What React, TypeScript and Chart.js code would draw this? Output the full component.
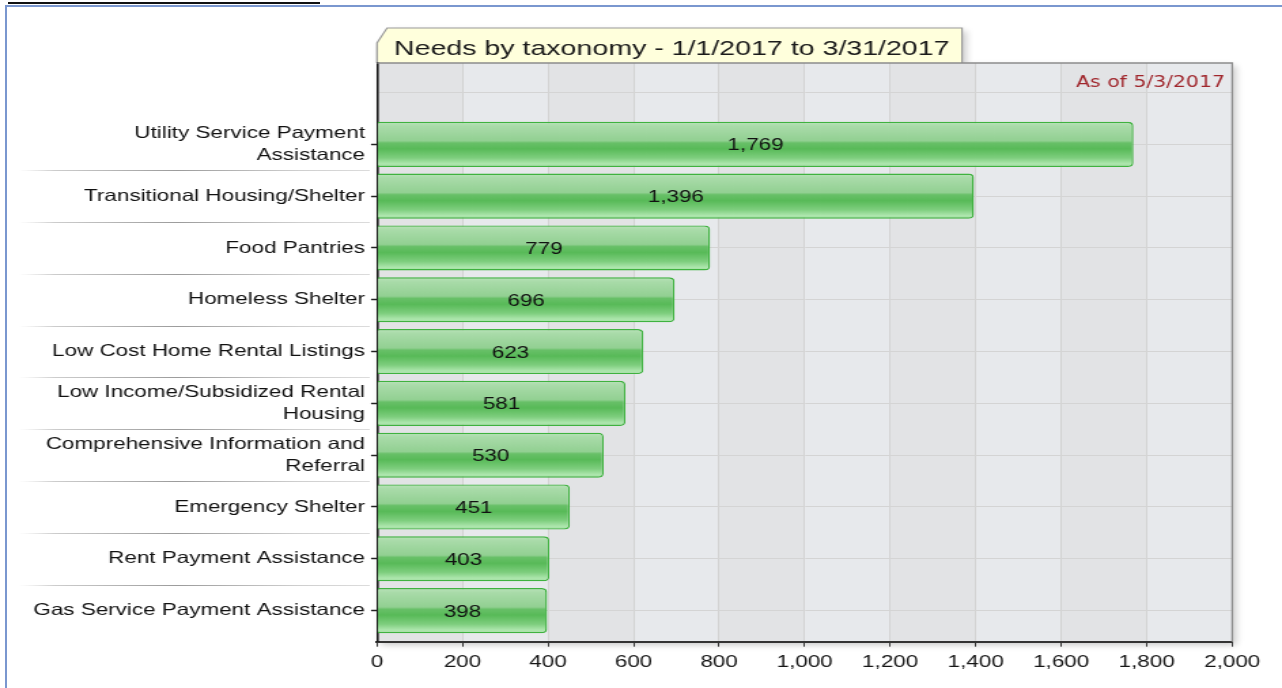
import React, { useEffect, useRef } from "react";
import { Chart, registerables } from "chart.js";

Chart.register(...registerables);

// ---------- data ----------
const categoryLabels: string[][] = [
  ["Utility Service Payment", "Assistance"],
  ["Transitional Housing/Shelter"],
  ["Food Pantries"],
  ["Homeless Shelter"],
  ["Low Cost Home Rental Listings"],
  ["Low Income/Subsidized Rental", "Housing"],
  ["Comprehensive Information and", "Referral"],
  ["Emergency Shelter"],
  ["Rent Payment Assistance"],
  ["Gas Service Payment Assistance"],
];
const needCounts: number[] = [1769, 1396, 779, 696, 623, 581, 530, 451, 403, 398];
const xTickValues: number[] = [0, 200, 400, 600, 800, 1000, 1200, 1400, 1600, 1800, 2000];
const chartTitle = "Needs by taxonomy - 1/1/2017 to 3/31/2017";
const asOfText = "As of 5/3/2017";

// ---------- layout (internal canvas is stretched horizontally) ----------
const SCREEN_W = 1282;
const H = 688;
const W = 943;
const FONT = '"Liberation Sans", Arial, Helvetica, sans-serif';
const BAR_PCT = 0.87;

const fmt = (v: number) => Number(v).toLocaleString("en-US");

export default function App() {
  const ref = useRef<HTMLCanvasElement>(null);

  useEffect(() => {
    const canvas = ref.current!;

    const decor = {
      id: "decor",
      beforeDraw(chart: any) {
        const { ctx, chartArea: a, scales } = chart;
        const xs = scales.x;
        const ys = scales.y;
        ctx.save();
        // shadow + base fill
        ctx.shadowColor = "rgba(0,0,0,0.22)";
        ctx.shadowBlur = 6;
        ctx.shadowOffsetX = 3;
        ctx.shadowOffsetY = 3;
        ctx.fillStyle = "#e4e5e7";
        ctx.fillRect(a.left, a.top, a.right - a.left, a.bottom - a.top);
        // tab
        const L = a.left;
        const R = 707.6;
        const T = 28;
        ctx.beginPath();
        ctx.moveTo(L, a.top);
        ctx.lineTo(L, T + 15);
        ctx.lineTo(L + 7.4, T);
        ctx.lineTo(R, T);
        ctx.lineTo(R, a.top);
        ctx.closePath();
        ctx.fillStyle = "#ffffdc";
        ctx.fill();
        ctx.restore();

        ctx.save();
        ctx.beginPath();
        ctx.moveTo(L, a.top);
        ctx.lineTo(L, T + 15);
        ctx.lineTo(L + 7.4, T);
        ctx.lineTo(R, T);
        ctx.lineTo(R, a.top);
        ctx.strokeStyle = "#9a9a9a";
        ctx.lineWidth = 1.2;
        ctx.stroke();
        ctx.fillStyle = "#1a1a1a";
        ctx.font = `21px ${FONT}`;
        ctx.textBaseline = "alphabetic";
        ctx.textAlign = "left";
        ctx.fillText(chartTitle, L + 12.5, 55);

        // alternating bands
        for (let k = 0; k < xTickValues.length - 1; k++) {
          const x0 = xs.getPixelForValue(xTickValues[k]);
          const x1 = xs.getPixelForValue(xTickValues[k + 1]);
          ctx.fillStyle = k % 2 === 0 ? "#e2e3e5" : "#e7e9ec";
          ctx.fillRect(x0, a.top, x1 - x0, a.bottom - a.top);
        }

        // label separators
        for (let i = 0; i < categoryLabels.length - 1; i++) {
          const yy = Math.round(ys.getPixelForValue(i + 0.5)) + 0.5;
          const g = ctx.createLinearGradient(14, 0, 272, 0);
          g.addColorStop(0, "rgba(215,215,215,0)");
          g.addColorStop(0.1, "rgba(205,205,205,1)");
          g.addColorStop(0.45, "#9c9c9c");
          g.addColorStop(0.8, "#cfcfcf");
          g.addColorStop(1, "#dcdcdc");
          ctx.strokeStyle = g;
          ctx.lineWidth = 1;
          ctx.beginPath();
          ctx.moveTo(14, yy);
          ctx.lineTo(272, yy);
          ctx.stroke();
        }
        ctx.restore();
      },
      afterDatasetsDraw(chart: any) {
        const { ctx } = chart;
        const meta = chart.getDatasetMeta(0);
        ctx.save();
        ctx.fillStyle = "#111";
        ctx.font = `16.5px ${FONT}`;
        ctx.textAlign = "center";
        ctx.textBaseline = "middle";
        meta.data.forEach((el: any, i: number) => {
          const p = el.getProps(["x", "y", "base"], true);
          ctx.fillText(fmt(needCounts[i]), (p.x + p.base) / 2, p.y + 1.5);
        });
        ctx.restore();
      },
      afterDraw(chart: any) {
        const { ctx, chartArea: a } = chart;
        ctx.save();
        ctx.strokeStyle = "#8c8c8c";
        ctx.lineWidth = 1.3;
        ctx.beginPath();
        ctx.moveTo(a.left, a.top);
        ctx.lineTo(a.right, a.top);
        ctx.lineTo(a.right, a.bottom);
        ctx.stroke();
        ctx.fillStyle = "#a0262c";
        ctx.font = `15px "DejaVu Sans", Verdana, sans-serif`;
        ctx.textAlign = "right";
        ctx.textBaseline = "alphabetic";
        ctx.fillText(asOfText, 901, 87);
        ctx.restore();
      },
    };

    const chart = new Chart(canvas, {
      type: "bar",
      data: {
        datasets: [
          {
            data: needCounts.map((v, i) => ({ x: v, y: i })) as any,
            backgroundColor: (c: any) => {
              const ch = c.chart;
              const ys = ch.scales && ch.scales.y;
              if (!ys || c.type !== "data") return "#7ccc7c";
              const center = ys.getPixelForValue(c.dataIndex);
              const half =
                (Math.abs(ys.getPixelForValue(1) - ys.getPixelForValue(0)) * BAR_PCT) / 2;
              if (!isFinite(center) || !isFinite(half) || half <= 0) return "#7ccc7c";
              const g = ch.ctx.createLinearGradient(0, center - half, 0, center + half);
              g.addColorStop(0, "#b9e3b9");
              g.addColorStop(0.1, "#a9dba9");
              g.addColorStop(0.42, "#92d092");
              g.addColorStop(0.47, "#68c068");
              g.addColorStop(0.6, "#58ba58");
              g.addColorStop(0.8, "#7ece7e");
              g.addColorStop(0.93, "#ade6ad");
              g.addColorStop(1, "#a0e0a0");
              return g;
            },
            borderColor: "#3fb23f",
            borderWidth: 1.4,
            borderRadius: 4,
            borderSkipped: "start",
            barPercentage: BAR_PCT,
            categoryPercentage: 1,
          },
        ],
      },
      options: {
        indexAxis: "y",
        responsive: false,
        animation: false,
        devicePixelRatio: 1,
        layout: { padding: { top: 63, right: W - 906.4, bottom: 0, left: 0 } },
        plugins: {
          legend: { display: false },
          tooltip: { enabled: false },
          title: { display: false },
        },
        scales: {
          x: {
            type: "linear",
            position: "bottom",
            min: 0,
            max: 2000,
            offset: false,
            afterBuildTicks: (s: any) => {
              s.ticks = xTickValues.map((v) => ({ value: v }));
            },
            afterFit: (s: any) => {
              s.height = H - 641.7;
            },
            ticks: {
              callback: (v: any) => fmt(Number(v)),
              font: { family: FONT, size: 16.5 },
              color: "#151515",
              padding: 6,
              maxRotation: 0,
              autoSkip: false,
            },
            grid: {
              offset: false,
              color: "#d3d3d3",
              lineWidth: 1,
              tickLength: 5,
              tickWidth: 0.9,
              tickColor: "#222",
            },
            border: { color: "#333", width: 2 },
          },
          y: {
            type: "linear",
            reverse: true,
            offset: false,
            min: -1.57,
            max: 9.6,
            afterBuildTicks: (s: any) => {
              s.ticks = [-1, ...categoryLabels.map((_, i) => i)].map((v) => ({ value: v }));
            },
            afterFit: (s: any) => {
              s.width = 277.3;
            },
            ticks: {
              callback: (v: any) => categoryLabels[Number(v)] ?? "",
              font: { family: FONT, size: 16.5, lineHeight: 1.333 },
              color: "#111",
              padding: 4.4,
              autoSkip: false,
            },
            grid: {
              offset: false,
              color: "#d4d4d4",
              lineWidth: 1,
              tickLength: 4.4,
              tickWidth: 1.5,
              tickColor: (c: any) =>
                c.tick && c.tick.value < 0 ? "rgba(0,0,0,0)" : "#222",
            },
            border: { color: "#1a1a1a", width: 1.6 },
          },
        },
      } as any,
      plugins: [decor],
    });

    return () => chart.destroy();
  }, []);

  return (
    <div
      style={{
        position: "absolute",
        left: 0,
        top: 0,
        width: SCREEN_W,
        height: H,
        overflow: "hidden",
        background: "#fff",
      }}
    >
      <div
        style={{
          position: "absolute",
          left: 8,
          top: 2,
          width: 312,
          height: 2,
          background: "#111",
        }}
      />
      <div
        style={{
          position: "absolute",
          left: 5,
          top: 5,
          width: SCREEN_W,
          height: H,
          borderLeft: "2px solid #7a97cf",
          borderTop: "2px solid #7a97cf",
        }}
      />
      <canvas
        ref={ref}
        width={W}
        height={H}
        style={{ position: "absolute", left: 0, top: 0, width: SCREEN_W + "px", height: H + "px" }}
      />
    </div>
  );
}
